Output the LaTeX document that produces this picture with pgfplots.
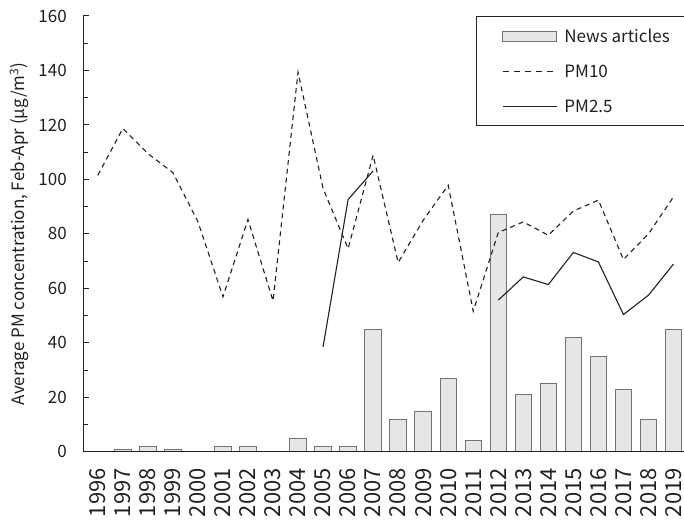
\documentclass[border=0pt]{standalone}
\usepackage{fontspec}
\setmainfont{Noto Sans CJK JP}
\usepackage{pgfplots}
\pgfplotsset{compat=1.18}
\definecolor{ink}{HTML}{231F20}
\definecolor{barfill}{HTML}{E6E6E6}
\definecolor{baredge}{HTML}{767171}
\pgfplotsset{
  barleg/.style={legend image code/.code={\draw[##1] (0pt,-5pt) rectangle (54pt,5pt);}},
  dashleg/.style={legend image code/.code={\draw[##1, dash pattern=on 6pt off 5pt] (0pt,0pt) -- (54pt,0pt);}},
  lineleg/.style={legend image code/.code={\draw[##1] (0pt,0pt) -- (54pt,0pt);}},
}
\begin{document}
\begin{tikzpicture}
\begin{axis}[
  scale only axis, width=601pt, height=436pt,
  xmin=-0.58, xmax=23.42, ymin=0, ymax=160,
  axis lines*=left,
  axis line style={ink, line width=1.3pt},
  axis on top,
  tick align=inside,
  ytick={0,20,...,160}, minor y tick num=1,
  y tick style={ink, line width=1pt}, major tick length=6pt, minor tick length=5pt,
  xtick={0,...,23}, x tick style={draw=none},
  xticklabels={1996,1997,1998,1999,2000,2001,2002,2003,2004,2005,2006,2007,2008,2009,2010,2011,2012,2013,2014,2015,2016,2017,2018,2019},
  xticklabel style={rotate=90, anchor=east, font=\fontsize{22}{22}\selectfont, xshift=-13pt, text=ink},
  yticklabel style={font=\fontsize{17}{17}\selectfont, xshift=-13pt, text=ink},
  /pgf/number format/assume math mode=true,
  ylabel={Average PM concentration, Feb-Apr (µg/m\textsuperscript{3})},
  ylabel style={at={(axis description cs:-0.1065,0.5)}, anchor=center, font=\fontsize{17}{17}\selectfont, text=ink},
  legend style={at={(axis description cs:0.6534,1)}, anchor=north west,
    draw=ink, line width=1.2pt, fill=white,
    inner xsep=26pt, inner ysep=10pt, row sep=17pt,
    font=\fontsize{17}{17}\selectfont, text=ink,
    /tikz/every odd column/.append style={column sep=5pt}},
  legend cell align=left,
]
\addplot[ybar, bar width=16.5pt, fill=barfill, draw=baredge, line width=0.9pt, barleg]
  coordinates {(1,1) (2,2) (3,1) (5,2) (6,2) (8,5) (9,2) (10,2) (11,45)
   (12,12) (13,15) (14,27) (15,4) (16,87) (17,21) (18,25) (19,42) (20,35) (21,23) (22,12) (23,45)};
\addlegendentry{\makebox[125pt][l]{News articles}}
\addplot[ink, line width=1.1pt, dash pattern=on 5pt off 4pt, dashleg]
  coordinates {(0,101.5) (1,118.7) (2,109.5) (3,102.5) (4,84.5) (5,56.9) (6,85.3) (7,55.4)
   (8,139.4) (9,96.7) (10,74.6) (11,108.9) (12,69.5) (13,85) (14,97.9) (15,51.6)
   (16,80.5) (17,84.4) (18,79.5) (19,88.4) (20,92.4) (21,70.6) (22,80) (23,93.6)};
\addlegendentry{PM10}
\addplot[ink, line width=1.1pt, unbounded coords=jump, lineleg]
  coordinates {(9,38.5) (10,92.6) (11,103.1) (12,nan) (16,55.7) (17,64.2) (18,61.4)
   (19,73.2) (20,69.7) (21,50.4) (22,57.5) (23,68.9)};
\addlegendentry{PM2.5}
\end{axis}
\pgfresetboundingbox
\path[use as bounding box] (-83.3pt,-73.3pt) rectangle (601pt,452pt);
\end{tikzpicture}
\end{document}
